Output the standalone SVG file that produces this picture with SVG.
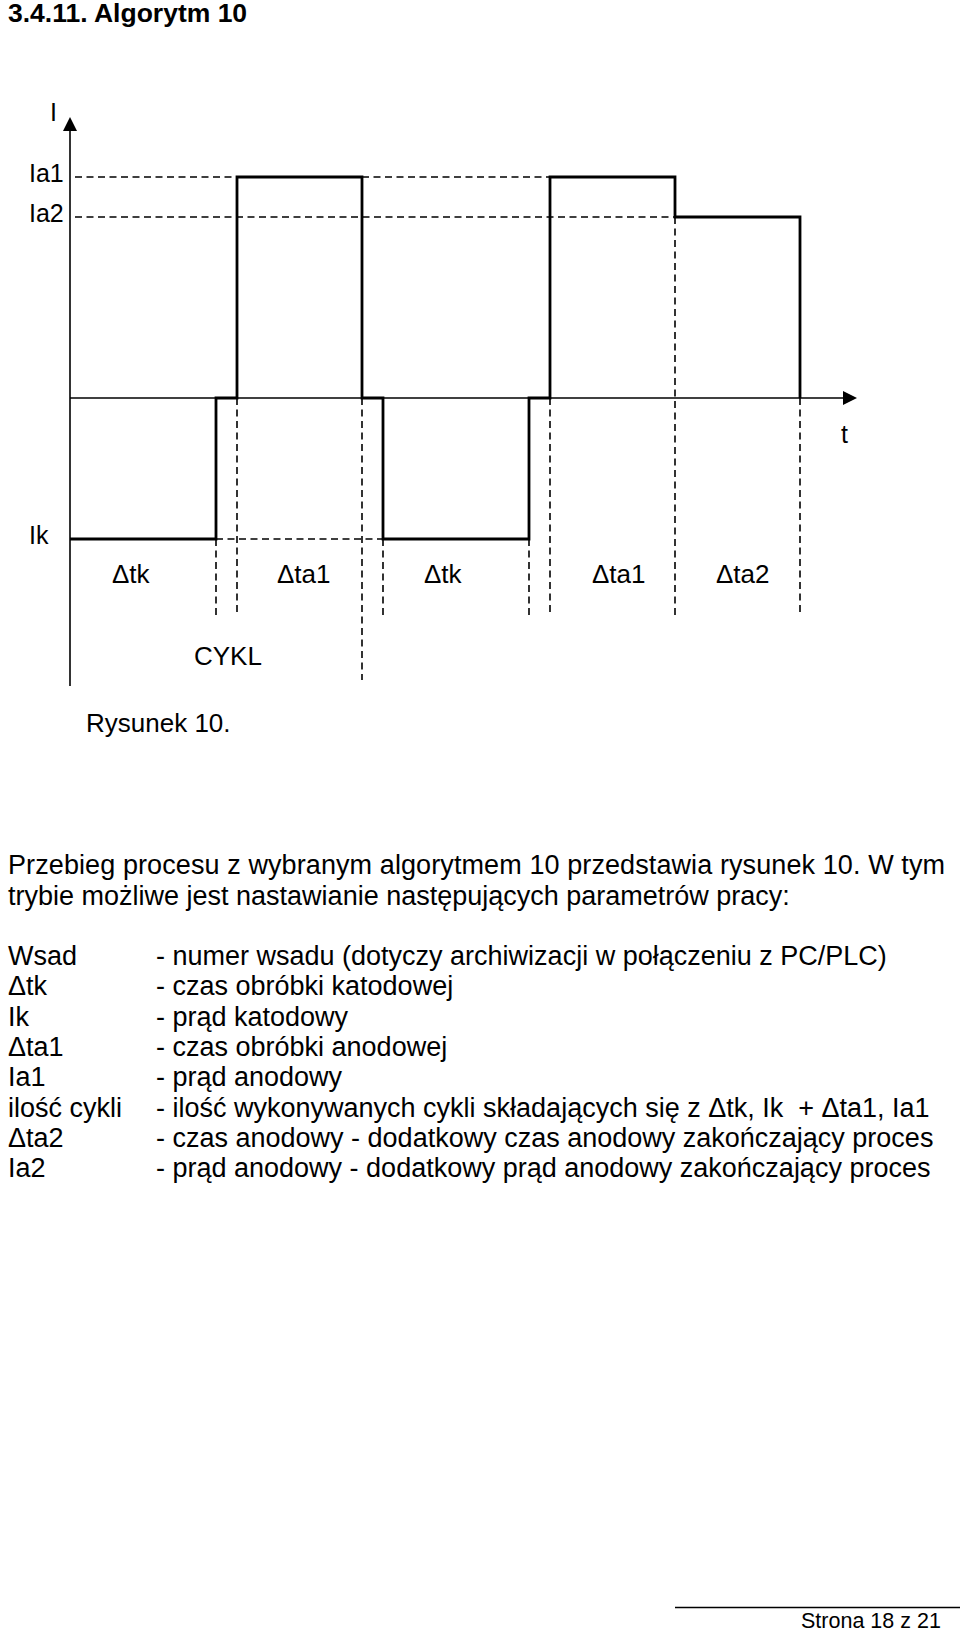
<svg xmlns="http://www.w3.org/2000/svg" width="960" height="1633" viewBox="0 0 960 1633">
<style>
text{font-family:"Liberation Sans",Arial,Helvetica,sans-serif;fill:#000}
.lbl{font-size:25px}
.ilbl{font-size:26px}
.body{font-size:27px}
.title{font-size:26.5px;font-weight:bold}
.foot{font-size:21.5px}
.axis{stroke:#000;stroke-width:1.6;fill:none}
.wave{stroke:#000;stroke-width:2.8;fill:none;stroke-linejoin:miter}
.dash{stroke:#000;stroke-width:1.6;fill:none;stroke-dasharray:7 4.5}
</style>
<rect x="0" y="0" width="960" height="1633" fill="#fff"/>
<text id="title" class="title" x="8" y="22">3.4.11. Algorytm 10</text>

<g id="connectors">
  <g id="axes">
    <line class="axis" x1="70" y1="128" x2="70" y2="686"/>
    <polygon points="70,117 63,131 77,131" fill="#000"/>
    <line class="axis" x1="70" y1="398" x2="845" y2="398"/>
    <polygon points="857,398 843,391 843,405" fill="#000"/>
  </g>
  <g id="guides">
    <path class="dash" d="M75,177H237M362,177H550"/>
    <path class="dash" d="M75,217H675"/>
    <path class="dash" d="M216,539H383"/>
    <path class="dash" d="M216,539V615M237,398V615M362,398V680M383,539V615M529,539V615M550,398V615M675,217V619M800,398V615"/>
  </g>
  <path id="waveform" class="wave" d="M70,539H216V398H237V177H362V398H383V539H529V398H550V177H675V217H800V398"/>
</g>

<g id="axis-labels">
  <text class="lbl" x="50" y="121">I</text>
  <text class="lbl" x="29" y="182">Ia1</text>
  <text class="lbl" x="29" y="222">Ia2</text>
  <text class="lbl" x="29" y="544">Ik</text>
  <text class="lbl" x="841" y="443">t</text>
</g>
<g id="interval-labels">
  <text class="ilbl" x="112" y="583">Δtk</text>
  <text class="ilbl" x="277" y="583">Δta1</text>
  <text class="ilbl" x="424" y="583">Δtk</text>
  <text class="ilbl" x="592" y="583">Δta1</text>
  <text class="ilbl" x="716" y="583">Δta2</text>
  <text class="ilbl" x="194" y="665">CYKL</text>
</g>
<text id="caption" class="body" x="86" y="732" style="font-size:26px">Rysunek 10.</text>

<g id="paragraph">
  <text class="body" x="8" y="874" textLength="937" lengthAdjust="spacing">Przebieg procesu z wybranym algorytmem 10 przedstawia rysunek 10. W tym</text>
  <text class="body" x="8" y="905">trybie możliwe jest nastawianie następujących parametrów pracy:</text>
</g>

<g id="parameters">
  <g id="p-wsad"><text class="body" x="8" y="965">Wsad</text><text class="body" x="156" y="965">- numer wsadu (dotyczy archiwizacji w połączeniu z PC/PLC)</text></g>
  <g id="p-dtk"><text class="body" x="8" y="995.3">Δtk</text><text class="body" x="156" y="995.3">- czas obróbki katodowej</text></g>
  <g id="p-ik"><text class="body" x="8" y="1025.6">Ik</text><text class="body" x="156" y="1025.6">- prąd katodowy</text></g>
  <g id="p-dta1"><text class="body" x="8" y="1055.9">Δta1</text><text class="body" x="156" y="1055.9">- czas obróbki anodowej</text></g>
  <g id="p-ia1"><text class="body" x="8" y="1086.2">Ia1</text><text class="body" x="156" y="1086.2">- prąd anodowy</text></g>
  <g id="p-cykle"><text class="body" x="8" y="1116.5">ilość cykli</text><text class="body" x="156" y="1116.5" xml:space="preserve">- ilość wykonywanych cykli składających się z Δtk, Ik  + Δta1, Ia1</text></g>
  <g id="p-dta2"><text class="body" x="8" y="1146.8">Δta2</text><text class="body" x="156" y="1146.8">- czas anodowy - dodatkowy czas anodowy zakończający proces</text></g>
  <g id="p-ia2"><text class="body" x="8" y="1177.1">Ia2</text><text class="body" x="156" y="1177.1">- prąd anodowy - dodatkowy prąd anodowy zakończający proces</text></g>
</g>

<g id="footer">
  <line x1="675" y1="1607.5" x2="960" y2="1607.5" stroke="#000" stroke-width="1.3"/>
  <text class="foot" x="801" y="1628">Strona 18 z 21</text>
</g>
</svg>
